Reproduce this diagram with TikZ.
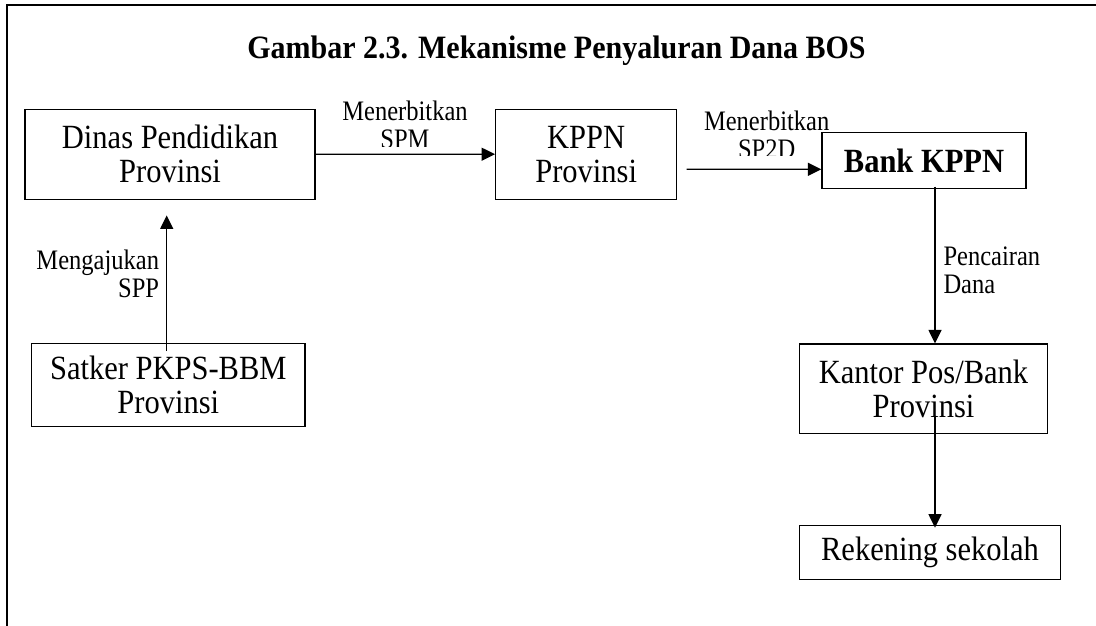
\documentclass[tikz,border=0pt]{standalone}
\usepackage{fontspec}
\setmainfont{Liberation Serif}
% narrow, tall setting of the serif face
\newfontfamily\bodyface[FakeStretch=0.9]{Liberation Serif}
\newfontfamily\labelface[FakeStretch=0.87]{Liberation Serif}
\newfontfamily\titleface[FakeStretch=0.92]{Liberation Serif}
\usetikzlibrary{arrows.meta}
\begin{document}
\begin{tikzpicture}[x=1pt,y=-1pt,
  box/.style={draw, line width=1.3pt, inner sep=0pt, align=center,
    font=\bodyface\fontsize{33.9}{34}\selectfont},
  lbl/.style={inner sep=0pt, font=\labelface\fontsize{28.2}{28}\selectfont},
  flow/.style={line width=1.3pt, -{Triangle[length=13.5pt,width=13pt]}},
  frameline/.style={line width=2.2pt, line join=miter},
]
\useasboundingbox (0,0) rectangle (1096,626);

% outer frame (top and left sides)
\draw[frameline] (7,626) -- (7,5) -- (1096,5);

% title
\node[font=\titleface\bfseries\fontsize{32.6}{34}\selectfont, anchor=base, inner sep=0pt]
  (title) at (556.5,59) {Gambar 2.3. Mekanisme Penyaluran Dana BOS};

% boxes
\node[box, minimum width=290pt, minimum height=90pt] (dinas) at (170,154.3)
  {Dinas Pendidikan\\Provinsi};
\node[box, minimum width=181pt, minimum height=90pt] (kppn) at (586.2,154.2)
  {KPPN\\Provinsi};
\node[box, minimum width=204pt, minimum height=56pt, font=\bodyface\bfseries\fontsize{33.9}{34}\selectfont]
  (bank) at (924,160.7) {Bank KPPN};
\node[box, minimum width=273.3pt, minimum height=83.4pt] (satker) at (168.3,385)
  {Satker PKPS-BBM\\Provinsi};
\node[box, minimum width=248.4pt, minimum height=89.3pt] (kantor) at (923.5,388.7)
  {Kantor Pos/Bank\\Provinsi};
\node[box, minimum width=261.4pt, minimum height=54pt] (rek) at (930,552.3)
  {Rekening sekolah};

% connectors
\draw[flow] (dinas.east) -- (kppn.west);
\draw[flow] ([xshift=9.3pt,yshift=-15pt]kppn.east) -- ([yshift=-8.6pt]bank.west);
\draw[flow] ([xshift=-1.6pt,yshift=-8.4pt]satker.north) -- ([xshift=-3.3pt,yshift=-15.5pt]dinas.south);
\draw[flow] ([xshift=11pt,yshift=2.7pt]bank.south) -- ([xshift=11.5pt]kantor.north);
\draw[flow] ([xshift=11.5pt,yshift=18.3pt]kantor.south) -- ([xshift=5pt,yshift=-3pt]rek.north);

% connector labels (the lower lines are cut off by their text frames)
\begin{scope}
  \clip (330,95) rectangle (480,146.7);
  \node[lbl, align=center] (spm) at (405,124.9) {Menerbitkan\\SPM};
\end{scope}
\begin{scope}
  \clip (690,100) rectangle (845,155);
  \node[lbl, align=center] (sp2d) at (766.7,134.9) {Menerbitkan\\SP2D};
\end{scope}
\node[lbl, align=right, anchor=east] (spp) at (159.3,273.9) {Mengajukan\\SPP};
\node[lbl, align=left, anchor=west] (dana) at (943.3,270.6) {Pencairan\\Dana};
\end{tikzpicture}
\end{document}
